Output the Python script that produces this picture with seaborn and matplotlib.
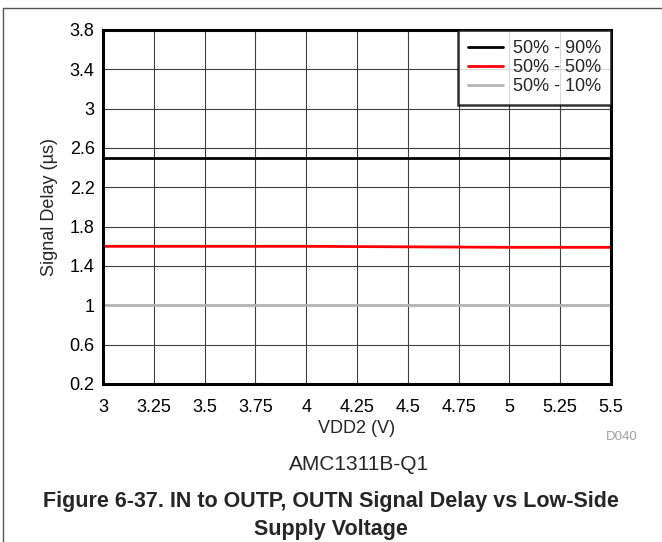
import pandas as pd
import seaborn as sns
import matplotlib.pyplot as plt
from matplotlib.lines import Line2D

vdd2 = [3.0, 3.5, 4.0, 4.5, 5.0, 5.5]
delay_90 = [2.50, 2.50, 2.50, 2.50, 2.50, 2.50]
delay_50 = [1.60, 1.60, 1.60, 1.595, 1.59, 1.59]
delay_10 = [1.00, 1.00, 1.00, 1.00, 1.00, 1.00]
series_names = ["50% - 90%", "50% - 50%", "50% - 10%"]
series_colors = ["#000000", "#ff0000", "#b4b4b4"]
x_ticks = [3, 3.25, 3.5, 3.75, 4, 4.25, 4.5, 4.75, 5, 5.25, 5.5]
y_ticks = [0.2, 0.6, 1, 1.4, 1.8, 2.2, 2.6, 3, 3.4, 3.8]

df = pd.DataFrame({
    "vdd2": vdd2 * 3,
    "delay": delay_90 + delay_50 + delay_10,
    "series": [s for s in series_names for _ in vdd2],
})

sns.set_style("white")
plt.rcParams["font.family"] = ["Liberation Sans", "DejaVu Sans"]

fig = plt.figure(figsize=(6.62, 5.42), dpi=100)
ax = fig.add_axes([103 / 662, 1 - 384 / 542, 508 / 662, 354 / 542])

sns.lineplot(data=df, x="vdd2", y="delay", hue="series", hue_order=series_names,
             palette=series_colors, linewidth=2, ax=ax, estimator=None)

ax.set_xlim(3, 5.5)
ax.set_ylim(0.2, 3.8)
ax.set_xticks(x_ticks)
ax.set_xticklabels([f"{v:g}" for v in x_ticks])
ax.set_yticks(y_ticks)
ax.set_yticklabels([f"{v:g}" for v in y_ticks])
ax.tick_params(axis="x", length=0, labelsize=13, colors="black", pad=11)
ax.tick_params(axis="y", length=0, labelsize=13, colors="black", pad=6)
ax.grid(True, color="#404040", linewidth=0.8)
for sp in ax.spines.values():
    sp.set_visible(True)
    sp.set_color("black")
    sp.set_linewidth(2.2)

ax.set_xlabel("VDD2 (V)", fontsize=13, labelpad=3)
ax.set_ylabel("Signal Delay (µs)", fontsize=13, labelpad=8)

leg = ax.legend(loc="upper right", borderaxespad=0, fontsize=13, frameon=True,
                fancybox=False, handlelength=1.95, handletextpad=0.55,
                labelspacing=0.12, borderpad=0.55)
leg.set_title(None)
leg.get_frame().set_edgecolor("black")
leg.get_frame().set_linewidth(1.8)
for h in leg.get_lines():
    h.set_linewidth(2)

fig.text(622 / 662, 1 - 437 / 542, "D040", fontsize=9.5, color="#a0a0a0",
         ha="center", va="center")
fig.text(359 / 662, 1 - 465 / 542, "AMC1311B-Q1", fontsize=15, ha="center", va="center")
fig.text(331 / 662, 1 - 501 / 542, "Figure 6-37. IN to OUTP, OUTN Signal Delay vs Low-Side",
         fontsize=15.5, fontweight="bold", ha="center", va="center")
fig.text(331 / 662, 1 - 530 / 542, "Supply Voltage",
         fontsize=15.5, fontweight="bold", ha="center", va="center")

fig.add_artist(Line2D([3 / 662, 1], [1 - 8 / 542, 1 - 8 / 542], color="#555555", lw=1))
fig.add_artist(Line2D([3 / 662, 3 / 662], [0, 1 - 8 / 542], color="#555555", lw=1))

fig.savefig("out.png", dpi=100)
